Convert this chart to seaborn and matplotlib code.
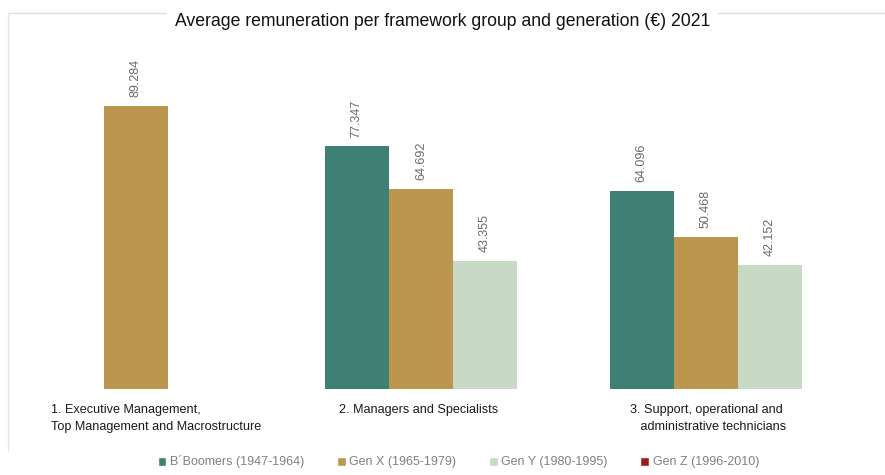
"""Average remuneration per framework group and generation, 2021."""

import matplotlib.pyplot as plt
import numpy as np
import pandas as pd
import seaborn as sns
from matplotlib.lines import Line2D
from matplotlib.patches import Patch

groups = [
    "1. Executive Management,\nTop Management and Macrostructure",
    "2. Managers and Specialists",
    "3. Support, operational and\n   administrative technicians",
]
generations = [
    "B´Boomers (1947-1964)",
    "Gen X (1965-1979)",
    "Gen Y (1980-1995)",
    "Gen Z (1996-2010)",
]
boomers = [np.nan, 77347, 64096]
gen_x = [89284, 64692, 50468]
gen_y = [np.nan, 43355, 42152]
gen_z = [np.nan, np.nan, np.nan]
colors = ["#3F7F74", "#BA964F", "#C8D9C5", "#9E1B1B"]

sns.set_style("white")
plt.rcParams["font.family"] = ["Liberation Sans", "DejaVu Sans"]


def main():
    rows = []
    for gen, vals in zip(generations, [boomers, gen_x, gen_y, gen_z]):
        for g, v in zip(groups, vals):
            rows.append((g, gen, v))
    df = pd.DataFrame(rows, columns=["group", "generation", "value"])

    fig = plt.figure(figsize=(8.85, 4.75), dpi=100)
    ax = fig.add_axes([20 / 885, 0.181, 850 / 885, 0.7137])

    sns.barplot(data=df.dropna(), x="group", y="value", hue="generation",
                order=groups, hue_order=generations, palette=colors,
                width=0.9, gap=0, ax=ax, legend=False, errorbar=None,
                saturation=1, linewidth=0)

    for cont in ax.containers:
        labels = [f"{v:,.0f}".replace(",", ".") if v > 0 else "" for v in cont.datavalues]
        ax.bar_label(cont, labels=labels, rotation=90, padding=6,
                     fontsize=9, color="#6a6a6a")

    ax.set_ylim(5300, 105800)
    ax.set_xlim(-0.519, 2.463)
    ax.set_xticks([])
    ax.set_yticks([])
    ax.set_xlabel("")
    ax.set_ylabel("")
    sns.despine(ax=ax, left=True, bottom=True)

    offsets = [-0.41, -0.40, -0.38]
    for i, (g, off) in enumerate(zip(groups, offsets)):
        ax.text(i + off, -0.045, g, transform=ax.get_xaxis_transform(),
                ha="left", va="top", fontsize=9.1, color="#1a1a1a",
                linespacing=1.5)

    # faint frame
    fig.add_artist(Line2D([8 / 885, 1], [1 - 13 / 475] * 2, color="#dddddd", lw=1))
    fig.add_artist(Line2D([8 / 885] * 2, [0.05, 1 - 13 / 475], color="#e6e6e6", lw=1))

    fig.text(0.5, 1 - 22 / 475, "Average remuneration per framework group and generation (€) 2021",
             ha="center", va="center", fontsize=12.7, color="#111111",
             bbox=dict(facecolor="white", edgecolor="none", pad=6))

    handles = [Patch(facecolor=c, label=l) for c, l in zip(colors, generations)]
    fig.legend(handles=handles, loc="center", bbox_to_anchor=(0.518, 1 - 462 / 475),
               ncol=4, frameon=False, fontsize=9, labelcolor="#808080",
               handlelength=0.7, handleheight=0.7, handletextpad=0.3,
               columnspacing=2.6)

    fig.savefig("out.png", dpi=100)


if __name__ == "__main__":
    main()
